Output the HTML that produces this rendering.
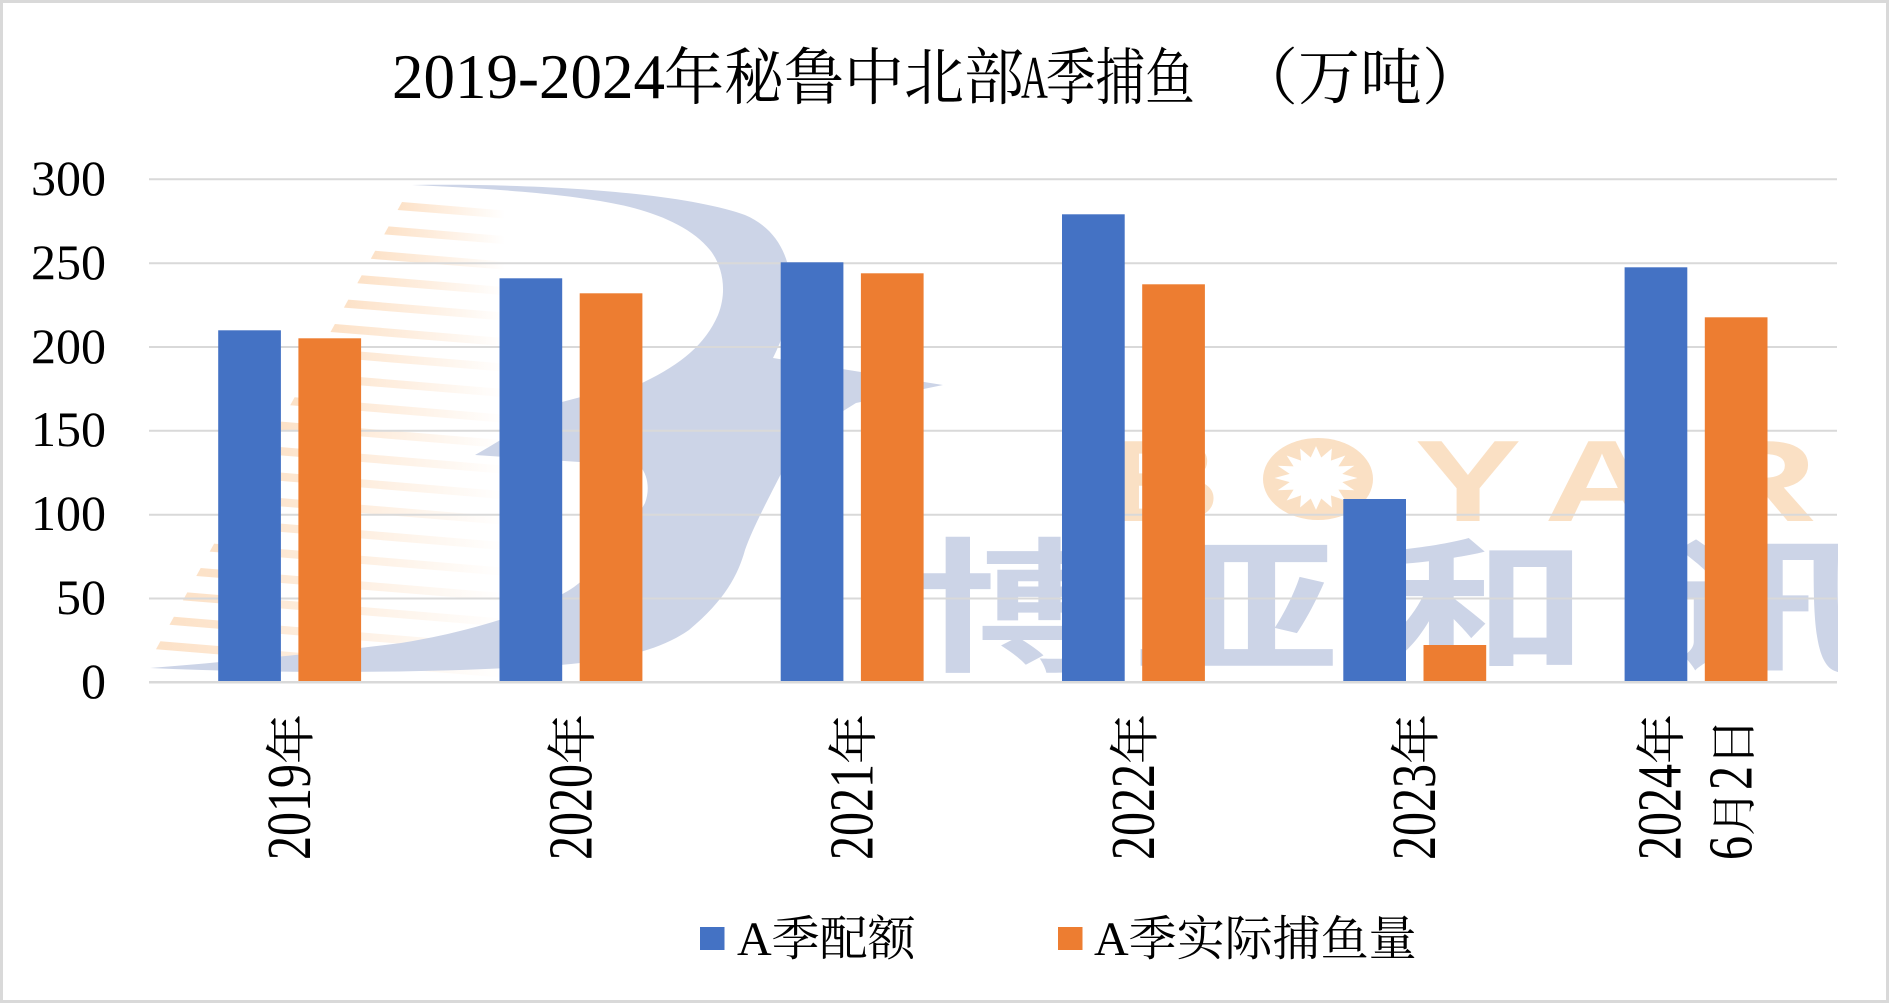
<!DOCTYPE html>
<html>
<head>
<meta charset="utf-8">
<style>
  html, body { margin: 0; padding: 0; background: #fff; }
  svg { display: block; }
  .serif { font-family: "Liberation Serif", "Noto Serif CJK SC", serif; fill: #000; }
  .wm { font-family: "Noto Sans CJK SC", "Liberation Sans", sans-serif; font-weight: 700; }
  .wl { font-family: "Liberation Sans", sans-serif; font-weight: 700; }
</style>
</head>
<body>
<svg width="1889" height="1003" viewBox="0 0 1889 1003" xmlns="http://www.w3.org/2000/svg">
  <defs>
    <linearGradient id="sg" x1="0" y1="0" x2="1" y2="0">
      <stop offset="0" stop-color="#fcdcbd" stop-opacity="0.85"/>
      <stop offset="0.5" stop-color="#fcdcbd" stop-opacity="0.45"/>
      <stop offset="1" stop-color="#fcdcbd" stop-opacity="0"/>
    </linearGradient>
    <clipPath id="plotclip">
      <rect x="140" y="170" width="1698" height="512"/>
    </clipPath>
  </defs>

  <rect x="0" y="0" width="1889" height="1003" fill="#ffffff"/>
  <rect x="1.5" y="1.5" width="1886" height="1000" fill="none" stroke="#d9d9d9" stroke-width="3"/>

  <!-- Watermark -->
  <g clip-path="url(#plotclip)">
    <polygon points="402,202 505,210.5 505,218.5 397.6,210" fill="url(#sg)"/>
    <polygon points="388.6,226.4 505,236.1 505,244.1 384.2,234.4" fill="url(#sg)"/>
    <polygon points="375.2,250.8 505,261.6 505,269.6 370.8,258.8" fill="url(#sg)"/>
    <polygon points="361.7,275.2 505,287.1 505,295.1 357.3,283.2" fill="url(#sg)"/>
    <polygon points="348.3,299.6 505,312.6 505,320.6 343.9,307.6" fill="url(#sg)"/>
    <polygon points="334.9,324 505,338.1 505,346.1 330.5,332" fill="url(#sg)"/>
    <polygon points="321.5,348.4 505,363.6 505,371.6 317.1,356.4" fill="url(#sg)"/>
    <polygon points="308.1,372.8 505,389.1 505,397.1 303.7,380.8" fill="url(#sg)"/>
    <polygon points="294.6,397.2 505,414.7 505,422.7 290.2,405.2" fill="url(#sg)"/>
    <polygon points="281.2,421.6 505,440.2 505,448.2 276.8,429.6" fill="url(#sg)"/>
    <polygon points="267.8,446 505,465.7 505,473.7 263.4,454" fill="url(#sg)"/>
    <polygon points="254.4,470.4 505,491.2 505,499.2 250,478.4" fill="url(#sg)"/>
    <polygon points="241,494.8 505,516.7 505,524.7 236.6,502.8" fill="url(#sg)"/>
    <polygon points="227.5,519.2 505,542.2 505,550.2 223.1,527.2" fill="url(#sg)"/>
    <polygon points="214.1,543.6 505,567.7 505,575.7 209.7,551.6" fill="url(#sg)"/>
    <polygon points="200.7,568 505,593.3 505,601.3 196.3,576" fill="url(#sg)"/>
    <polygon points="187.3,592.4 505,618.8 505,626.8 182.9,600.4" fill="url(#sg)"/>
    <polygon points="173.9,616.8 505,644.3 505,652.3 169.5,624.8" fill="url(#sg)"/>
    <polygon points="160.4,641.2 505,669.8 505,677.8 156,649.2" fill="url(#sg)"/>

    <path fill="#ccd4e7" d="M 412 185
      C 560 183, 690 195, 745 215
      C 780 230, 793 262, 791 300
      C 789 320, 782 340, 773 358
      L 943 385
      L 856 403
      C 820 425, 795 445, 783 470
      C 765 505, 752 530, 745 550
      C 738 575, 725 600, 689 630
      C 660 650, 620 660, 560 665
      C 460 672, 300 675, 150 668
      C 250 660, 330 652, 401 643
      C 470 632, 540 610, 574 587
      C 610 560, 630 530, 645 503
      C 650 490, 648 475, 640 466
      L 475 455
      C 520 430, 540 412, 558 403
      C 600 392, 625 385, 642 383
      C 680 365, 705 345, 718 315
      C 728 290, 722 265, 710 250
      C 690 225, 650 210, 611 203
      C 560 193, 480 188, 412 185 Z"/>

    <g fill="#fae0c4">
      <text class="wl" font-size="116" text-anchor="middle" transform="translate(1163,521) scale(1.38,1)">B</text>
      <ellipse cx="1318" cy="479" rx="55" ry="41"/>
      <text class="wl" font-size="116" text-anchor="middle" transform="translate(1468,521) scale(1.38,1)">Y</text>
      <text class="wl" font-size="116" text-anchor="middle" transform="translate(1602,521) scale(1.38,1)">A</text>
      <text class="wl" font-size="116" text-anchor="middle" transform="translate(1759,521) scale(1.38,1)">R</text>
    </g>
    <g transform="translate(1316,478) scale(1.12,1.1) translate(-1316,-478)">
    <polygon fill="#ffffff" points="1353,478 1339.5,481.7 1350.2,489.1 1336,488.6 1342.2,498.5 1329.3,493.8 1330.2,504.8 1320.7,496.6 1316,507 1311.3,496.6 1301.8,504.8 1302.7,493.8 1289.8,498.5 1296,488.6 1281.8,489.1 1292.5,481.7 1279,478 1292.5,474.3 1281.8,466.9 1296,467.4 1289.8,457.5 1302.7,462.2 1301.8,451.2 1311.3,459.4 1316,449 1320.7,459.4 1330.2,451.2 1329.3,462.2 1342.2,457.5 1336,467.4 1350.2,466.9 1339.5,474.3"/>
    </g>

    <g fill="#ccd4e7">
      <text class="wm" font-size="145" text-anchor="middle" transform="translate(1020,660) scale(1.42,1)">博</text>
      <text class="wm" font-size="145" text-anchor="middle" transform="translate(1237,660) scale(1.42,1)">亚</text>
      <text class="wm" font-size="145" text-anchor="middle" transform="translate(1486,660) scale(1.42,1)">和</text>
      <text class="wm" font-size="145" text-anchor="middle" transform="translate(1765,660) scale(1.42,1)">讯</text>
    </g>
  </g>

  <!-- Gridlines -->
  <g stroke="#d9d9d9" stroke-width="2">
    <line x1="149" y1="179.3" x2="1837" y2="179.3"/>
    <line x1="149" y1="263.2" x2="1837" y2="263.2"/>
    <line x1="149" y1="347" x2="1837" y2="347"/>
    <line x1="149" y1="430.8" x2="1837" y2="430.8"/>
    <line x1="149" y1="514.7" x2="1837" y2="514.7"/>
    <line x1="149" y1="598.5" x2="1837" y2="598.5"/>
  </g>

  <!-- Bars -->
  <g fill="#4472c4">
    <rect x="218.2" y="330.3" width="62.7" height="352"/>
    <rect x="499.5" y="278.3" width="62.7" height="404"/>
    <rect x="780.7" y="262.3" width="62.7" height="420"/>
    <rect x="1062" y="214.3" width="62.7" height="468"/>
    <rect x="1343.3" y="499" width="62.7" height="183.3"/>
    <rect x="1624.6" y="267.3" width="62.7" height="415"/>
  </g>
  <g fill="#ed7d31">
    <rect x="298.4" y="338.3" width="62.7" height="344"/>
    <rect x="579.7" y="293.3" width="62.7" height="389"/>
    <rect x="860.9" y="273.3" width="62.7" height="409"/>
    <rect x="1142.2" y="284.3" width="62.7" height="398"/>
    <rect x="1423.5" y="645" width="62.7" height="37.3"/>
    <rect x="1704.8" y="317.3" width="62.7" height="365"/>
  </g>

  <line x1="149" y1="682.3" x2="1837" y2="682.3" stroke="#d9d9d9" stroke-width="2.5"/>

  <!-- Title -->
  <text class="serif" font-size="63" x="392" y="98" textLength="273" lengthAdjust="spacingAndGlyphs">2019-2024</text>
  <text class="serif" font-size="62" x="664" y="99" textLength="360" lengthAdjust="spacingAndGlyphs">年秘鲁中北部</text>
  <text class="serif" font-size="60" transform="translate(1021,98) scale(0.62,1)">A</text>
  <text class="serif" font-size="62" transform="translate(1046,99) scale(0.8,1)">季捕鱼</text>
  <text class="serif" font-size="62" x="1236" y="99">（万吨）</text>

  <!-- Y axis labels -->
  <g class="serif" font-size="50" text-anchor="end">
    <text x="106" y="195">300</text>
    <text x="106" y="279">250</text>
    <text x="106" y="363">200</text>
    <text x="106" y="446">150</text>
    <text x="106" y="530">100</text>
    <text x="106" y="614">50</text>
    <text x="106" y="698">0</text>
  </g>

  <!-- X axis labels -->
  <g class="serif">
    <text font-size="48" transform="translate(310.1,860) rotate(-90) scale(1,1.3)">2019</text>
    <text font-size="50" transform="translate(308.6,764) rotate(-90)">年</text>

    <text font-size="48" transform="translate(591.4,860) rotate(-90) scale(1,1.3)">2020</text>
    <text font-size="50" transform="translate(589.9,764) rotate(-90)">年</text>

    <text font-size="48" transform="translate(872.7,860) rotate(-90) scale(1,1.3)">2021</text>
    <text font-size="50" transform="translate(871.2,764) rotate(-90)">年</text>

    <text font-size="48" transform="translate(1153.9,860) rotate(-90) scale(1,1.3)">2022</text>
    <text font-size="50" transform="translate(1152.4,764) rotate(-90)">年</text>

    <text font-size="48" transform="translate(1435.2,860) rotate(-90) scale(1,1.3)">2023</text>
    <text font-size="50" transform="translate(1433.7,764) rotate(-90)">年</text>

    <text font-size="48" transform="translate(1680.5,860) rotate(-90) scale(1,1.3)">2024</text>
    <text font-size="50" transform="translate(1679,764) rotate(-90)">年</text>

    <text font-size="48" transform="translate(1751.5,860) rotate(-90) scale(1,1.3)">6</text>
    <text font-size="46" transform="translate(1750,836) rotate(-90)">月</text>
    <text font-size="48" transform="translate(1751.5,790) rotate(-90) scale(1,1.3)">2</text>
    <text font-size="48" transform="translate(1750,766) rotate(-90)">日</text>
  </g>

  <!-- Legend -->
  <rect x="700" y="927" width="24.5" height="23" fill="#4472c4"/>
  <text class="serif" font-size="48" x="737" y="955">A季配额</text>
  <rect x="1058" y="927" width="24.5" height="23" fill="#ed7d31"/>
  <text class="serif" font-size="48" x="1094" y="955">A季实际捕鱼量</text>
</svg>
</body>
</html>
